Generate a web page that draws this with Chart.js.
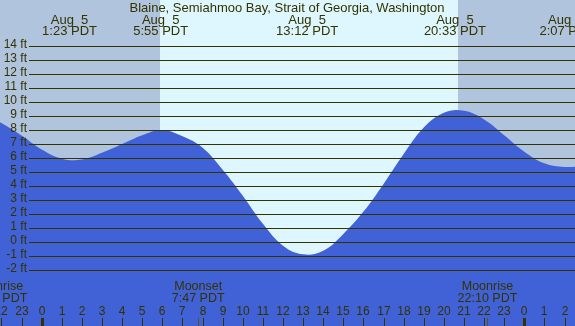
<!DOCTYPE html>
<html>
<head>
<meta charset="utf-8">
<script src="https://cdn.jsdelivr.net/npm/chart.js@4/dist/chart.umd.min.js"></script>
<style>
  html, body { margin: 0; padding: 0; background: #B0C4DE; }
  canvas { display: block; }
</style>
</head>
<body>
<canvas id="tideChart" width="575" height="326"></canvas>
<script>
// hours relative to midnight Aug 5 (PDT), tide height in feet
const hours  = [-3, -2, -1, 0, 1, 2, 3, 4, 5, 6, 7, 8, 9, 10, 11, 12, 13, 14,
                15, 16, 17, 18, 19, 20, 21, 22, 23, 24, 25, 26, 27];
const tideFt = [9.2, 8.5, 7.6, 6.6, 5.95, 5.9, 6.38, 7.0, 7.63, 8.0, 7.55, 6.74, 5.16, 3.3, 1.3, -0.26, -0.88, -0.62,
                0.58, 2.17, 4.15, 6.28, 8.17, 9.23, 9.37, 8.75, 7.63, 6.45, 5.62, 5.36, 5.45];

const ftTicks = [-2, -1, 0, 1, 2, 3, 4, 5, 6, 7, 8, 9, 10, 11, 12, 13, 14];
const hourTicks = [-2, -1, 0, 1, 2, 3, 4, 5, 6, 7, 8, 9, 10, 11, 12, 13, 14, 15, 16, 17, 18, 19, 20, 21, 22, 23, 24, 25, 26];
const hourLabels = ['22', '23', '0', '1', '2', '3', '4', '5', '6', '7', '8', '9', '10', '11', '12', '13', '14', '15',
                    '16', '17', '18', '19', '20', '21', '22', '23', '0', '1', '2'];

// high / low tide events
const tideTimes = [1.383, 5.917, 13.2, 20.55, 26.117];
const tideDates = ['Aug  5', 'Aug  5', 'Aug  5', 'Aug  5', 'Aug  6'];
const tideLabels = ['1:23 PDT', '5:55 PDT', '13:12 PDT', '20:33 PDT', '2:07 PDT'];

// moon events
const moonTimes = [-2.2, 7.783, 22.167];
const moonNames = ['Moonrise', 'Moonset', 'Moonrise'];
const moonLabels = ['21:48 PDT', '7:47 PDT', '22:10 PDT'];

const sunrise = 5.86;
const sunset = 20.70;

const title = 'Blaine, Semiahmoo Bay, Strait of Georgia, Washington';

const ink = '#333300';
const fam = '"Liberation Sans", Arial, sans-serif';

const decor = {
    id: 'decor',
    beforeDatasetsDraw(chart) {
        const { ctx, chartArea: a, scales: { x } } = chart;
        const xr = x.getPixelForValue(sunrise);
        const xs = x.getPixelForValue(sunset);
        ctx.save();
        ctx.fillStyle = '#B0C4DE';
        ctx.fillRect(a.left, a.top, a.right - a.left, a.bottom - a.top);
        ctx.fillStyle = '#DEF7FF';
        ctx.fillRect(Math.round(xr), a.top, Math.round(xs) - Math.round(xr), a.bottom - a.top);
        ctx.restore();
    },
    afterDatasetsDraw(chart) {
        const { ctx, chartArea: a, scales: { x, y } } = chart;
        ctx.save();
        ctx.fillStyle = ink;

        // feet grid lines + labels
        ctx.font = '12px ' + fam;
        ctx.strokeStyle = ink;
        ctx.lineWidth = 1;
        ftTicks.forEach(v => {
            const py = Math.round(y.getPixelForValue(v)) + 0.5;
            ctx.beginPath();
            ctx.moveTo(29, py);
            ctx.lineTo(a.right, py);
            ctx.stroke();
            ctx.textAlign = 'right';
            ctx.textBaseline = 'middle';
            ctx.fillText(v + ' ft', 27, py - 1.5);
        });

        // title and tide events
        ctx.font = '13px ' + fam;
        ctx.textAlign = 'center';
        ctx.textBaseline = 'middle';
        ctx.fillText(title, 287, 8);
        tideTimes.forEach((t, i) => {
            const px = x.getPixelForValue(t);
            ctx.fillText(tideDates[i], px, 20.5);
            ctx.fillText(tideLabels[i], px, 31.5);
        });

        // moon events
        ctx.font = '12.5px ' + fam;
        moonTimes.forEach((t, i) => {
            const px = x.getPixelForValue(t);
            ctx.fillText(moonNames[i], px, 287);
            ctx.fillText(moonLabels[i], px, 299);
            ctx.fillStyle = '#5a5020';
            ctx.fillRect(Math.round(px), 318, 1, 8);
            ctx.fillStyle = ink;
        });

        // hour labels and ticks
        ctx.font = '12px ' + fam;
        hourTicks.forEach((h, i) => {
            const px = Math.round(x.getPixelForValue(h));
            ctx.fillText(hourLabels[i], px, 312);
            const w = hourLabels[i] === '0' ? 3 : 1;
            ctx.fillRect(px - Math.floor(w / 2), 318, w, 8);
        });
        ctx.restore();
    }
};

const chartRef = document.querySelector('#tideChart');
chartRef.chart = new Chart(chartRef, {
    type: 'line',
    data: {
        datasets: [{
            label: 'Tide',
            data: hours.map((h, i) => ({ x: h, y: tideFt[i] })),
            fill: 'start',
            backgroundColor: 'rgb(65, 97, 214)',
            borderColor: 'rgba(0,0,0,0)',
            borderWidth: 0,
            pointRadius: 0,
            tension: 0.4
        }]
    },
    options: {
        responsive: false,
        animation: false,
        devicePixelRatio: 1,
        layout: { padding: 0, autoPadding: false },
        plugins: {
            legend: { display: false },
            tooltip: { enabled: false }
        },
        scales: {
            x: { type: 'linear', min: -2.074, max: 26.52, display: false },
            y: { min: -6, max: 242 / 14, display: false }
        }
    },
    plugins: [decor]
});
</script>
</body>
</html>
